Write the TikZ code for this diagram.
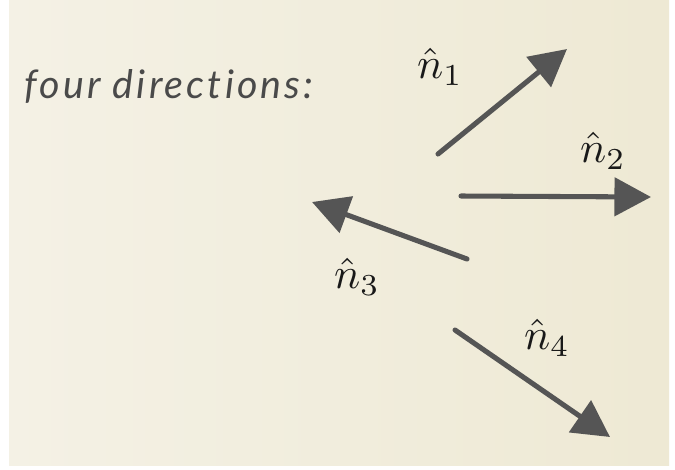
\documentclass[tikz,border=0pt]{standalone}
\usepackage{fontspec}
\newfontfamily\captionfont[Ligatures=NoCommon, LetterSpace=8]{Lato}
\usetikzlibrary{arrows.meta}

\definecolor{paperlight}{HTML}{F4F1E5}
\definecolor{paperdark}{HTML}{EEE9D4}
\definecolor{inkgray}{HTML}{555555}
\definecolor{textgray}{HTML}{4A4A4A}

\tikzset{
  dirarrow/.style={inkgray, line width=3.6pt, line cap=round,
    -{Triangle[length=26pt, width=27pt]}},
  dirlabel/.style={scale=3.1, transform shape, text=black!90},
}

\begin{document}
\begin{tikzpicture}[x=0.025cm, y=-0.025cm]
\useasboundingbox (0,0) rectangle (675,469);
% paper
\fill[white] (0,0) rectangle (675,469);
\shade[left color=paperlight, right color=paperdark]
  (9,0) rectangle (669,465);

% caption
\node[anchor=base west, inner sep=0pt, text=textgray,
  font=\captionfont\itshape\fontsize{28}{32}\selectfont] (caption) at (24,98) {four directions:};

% arrow ends
\coordinate (o1) at (438,154); \coordinate (t1) at (567,49);
\coordinate (o2) at (461,196); \coordinate (t2) at (651,197);
\coordinate (o3) at (467,259); \coordinate (t3) at (312,202);
\coordinate (o4) at (455,330); \coordinate (t4) at (610,437);

% the four directions
\draw[dirarrow] (o1) -- (t1);
\draw[dirarrow] (o2) -- (t2);
\draw[dirarrow] (o3) -- (t3);
\draw[dirarrow] (o4) -- (t4);

% labels
\node[dirlabel] (n1) at (440,67) {$\hat{n}_1$};
\node[dirlabel] (n2) at (603,151) {$\hat{n}_2$};
\node[dirlabel] (n3) at (357,277) {$\hat{n}_3$};
\node[dirlabel] (n4) at (547,338) {$\hat{n}_4$};
\end{tikzpicture}
\end{document}
